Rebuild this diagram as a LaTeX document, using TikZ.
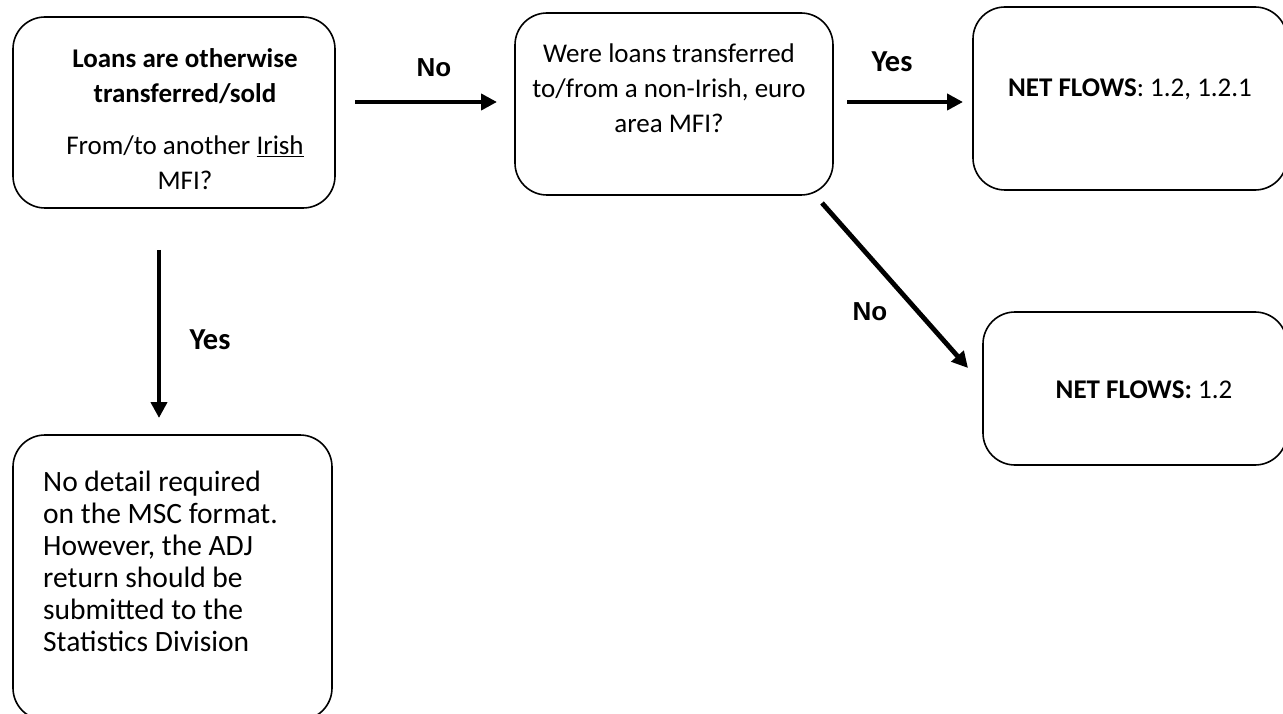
\documentclass[tikz,border=0pt]{standalone}
\usepackage{fontspec}
\setmainfont{Carlito}
\newfontfamily\arialfont{Liberation Sans}
\usetikzlibrary{arrows.meta}
\begin{document}
\begin{tikzpicture}[x=1pt,y=-1pt,
  box/.style={draw=black, line width=1.6pt, rounded corners=32pt, inner sep=0pt},
  txt/.style={inner sep=0pt, font=\fontsize{27}{35}\selectfont},
  txtb/.style={inner sep=0pt, font=\fontsize{29.5}{32}\selectfont},
  arr/.style={line width=4.8pt, -{Triangle[length=16pt,width=16pt]}},
  nolab/.style={inner sep=0pt, font=\arialfont\bfseries\fontsize{26}{30}\selectfont},
  yeslab/.style={inner sep=0pt, font=\bfseries\fontsize{30.5}{34}\selectfont}]
\useasboundingbox (0,0) rectangle (1283,714);
\begin{scope}
\clip (0,0) rectangle (1283,714);
% boxes
\node[box, minimum width=322pt, minimum height=191pt] (b1) at (174,112.5) {};
\node[box, minimum width=318pt, minimum height=182pt] (b2) at (674,104) {};
\node[box, minimum width=314pt, minimum height=183pt] (b3) at (1130,98.5) {};
\node[box, minimum width=304pt, minimum height=153pt] (b4) at (1135,388.5) {};
\node[box, minimum width=319pt, minimum height=285pt] (b5) at (172.5,577.5) {};
\end{scope}
% texts
\node[txt, anchor=base] (t1) at (185,68) {\begin{tabular}[t]{@{}c@{}}\textbf{Loans are otherwise}\\\textbf{transferred/sold}\\[17pt]From/to another \underline{Irish}\\MFI?\end{tabular}};
\node[txt, anchor=base] (t2) at (669,63) {\begin{tabular}[t]{@{}c@{}}Were loans transferred\\to/from a non-Irish, euro\\area MFI?\end{tabular}};
\node[txt, anchor=base] (t3) at (1130,97) {\textbf{NET FLOWS}: 1.2, 1.2.1};
\node[txt, anchor=base] (t4) at (1144,398) {\textbf{NET FLOWS:} 1.2};
\node[txtb, anchor=base west] (t5) at (43,491) {\begin{tabular}[t]{@{}l@{}}No detail required\\on the MSC format.\\However, the ADJ\\return should be\\submitted to the\\Statistics Division\end{tabular}};
% arrows
\coordinate (a1s) at (355,102);
\coordinate (a1e) at (497,102);
\coordinate (a2s) at (847,102);
\coordinate (a2e) at (963,102);
\coordinate (a3s) at (159,250);
\coordinate (a3e) at (159,418);
\coordinate (a4s) at (822,203);
\coordinate (a4e) at (968,368);
\draw[arr] (a1s) -- (a1e);
\draw[arr] (a2s) -- (a2e);
\draw[arr] (a3s) -- (a3e);
\draw[arr] (a4s) -- (a4e);
% labels
\node[nolab] (l1) at (434,68) {No};
\node[yeslab] (l2) at (892,62) {Yes};
\node[yeslab] (l3) at (210,340) {Yes};
\node[nolab] (l4) at (870,312) {No};
\end{tikzpicture}
\end{document}
